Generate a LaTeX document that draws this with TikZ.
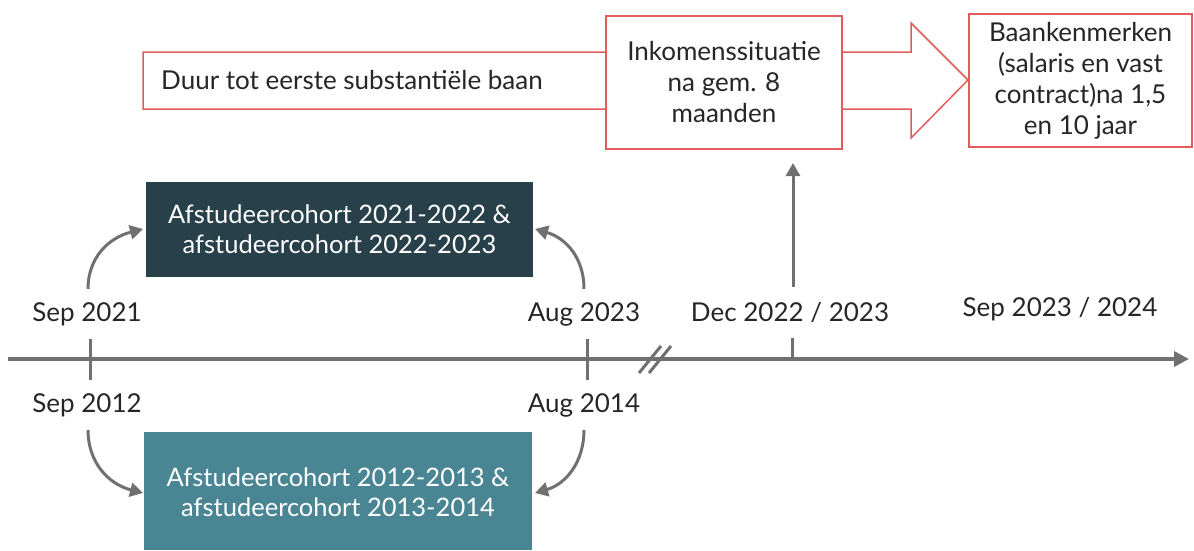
\documentclass[tikz,border=0pt]{standalone}
\usepackage{fontspec}
\setmainfont{Lato}
\usetikzlibrary{arrows.meta}
\definecolor{axgray}{RGB}{112,112,112}
\definecolor{boxred}{RGB}{226,92,92}
\definecolor{darkbox}{RGB}{39,64,74}
\definecolor{tealbox}{RGB}{74,133,147}
\definecolor{txt}{RGB}{38,38,38}
\begin{document}
\begin{tikzpicture}[x=1pt,y=-1pt,
  redbox/.style={draw=boxred,line width=1.5pt,fill=white,inner sep=0pt,align=center,text=txt,font=\fontsize{26}{31}\selectfont},
  cohort/.style={inner sep=0pt,align=center,text=white,font=\fontsize{25.5}{30}\selectfont},
  datelbl/.style={inner sep=0pt,text=txt,font=\fontsize{26}{30}\selectfont},
  axisline/.style={draw=axgray,line width=3.5pt},
  tickline/.style={draw=axgray,line width=3pt},
  grayarrow/.style={draw=axgray,line width=3pt,-{Triangle[length=13pt,width=14pt]}}
]
\useasboundingbox (0,0) rectangle (1194,550);
% top band arrow
\draw[boxred,line width=1.5pt,fill=white] (143,52) -- (911,52) -- (911,23) -- (968,80) -- (911,138) -- (911,109) -- (143,109) -- cycle;
\node[anchor=west,inner sep=0pt,text=txt,font=\fontsize{26}{30}\selectfont] (duur) at (161,80) {Duur tot eerste substantiële baan};
\node[redbox,minimum width=236pt,minimum height=133pt] (inkomen) at (724,82.5) {Inkomenssituatie\\na gem. 8\\maanden};
\node[redbox,minimum width=223pt,minimum height=133pt] (baan) at (1080.5,80.5) {Baankenmerken\\(salaris en vast\\contract)na 1,5\\en 10 jaar};
% cohort boxes
\fill[darkbox] (146,182) rectangle (533,277);
\node[cohort] (dark) at (339.5,229.5) {Afstudeercohort 2021-2022 \&\\afstudeercohort 2022-2023};
\fill[tealbox] (144,432) rectangle (532,550);
\node[cohort] (teal) at (338,492) {Afstudeercohort 2012-2013 \&\\afstudeercohort 2013-2014};
% axis
\coordinate (ax0) at (8,359);
\coordinate (ax1) at (1189,359);
\draw[axisline,-{Triangle[length=15pt,width=15pt]}] (ax0) -- (ax1);
\coordinate (t1a) at (90,339); \coordinate (t1b) at (90,380);
\coordinate (t2a) at (587,339); \coordinate (t2b) at (587,380);
\coordinate (t3a) at (792,338); \coordinate (t3b) at (792,359);
\draw[tickline] (t1a) -- (t1b);
\draw[tickline] (t2a) -- (t2b);
\draw[tickline] (t3a) -- (t3b);
\coordinate (b1a) at (639,373); \coordinate (b1b) at (661,346);
\coordinate (b2a) at (649,373); \coordinate (b2b) at (671,346);
\draw[tickline] (b1a) -- (b1b);
\draw[tickline] (b2a) -- (b2b);
% date labels
\node[datelbl] (sep21) at (87,314) {Sep 2021};
\node[datelbl] (sep12) at (87,405) {Sep 2012};
\node[datelbl] (aug23) at (584,314) {Aug 2023};
\node[datelbl] (aug14) at (584,405) {Aug 2014};
\node[datelbl] (dec22) at (790,313) {Dec 2022 / 2023};
\node[datelbl] (sep23) at (1060,309) {Sep 2023 / 2024};
% arrows
\coordinate (c1s) at (88,289); \coordinate (c1e) at (143,229);
\coordinate (c2s) at (584,289); \coordinate (c2e) at (535,229);
\coordinate (c3s) at (88,430); \coordinate (c3e) at (143,493);
\coordinate (c4s) at (584,430); \coordinate (c4e) at (535,493);
\draw[grayarrow] (c1s) .. controls (88,258) and (108,238) .. (c1e);
\draw[grayarrow] (c2s) .. controls (584,258) and (566,238) .. (c2e);
\draw[grayarrow] (c3s) .. controls (88,462) and (108,484) .. (c3e);
\draw[grayarrow] (c4s) .. controls (584,462) and (566,484) .. (c4e);
\coordinate (vs) at (793,287);
\coordinate (ve) at (793,163);
\draw[grayarrow] (vs) -- (ve);
\end{tikzpicture}
\end{document}
